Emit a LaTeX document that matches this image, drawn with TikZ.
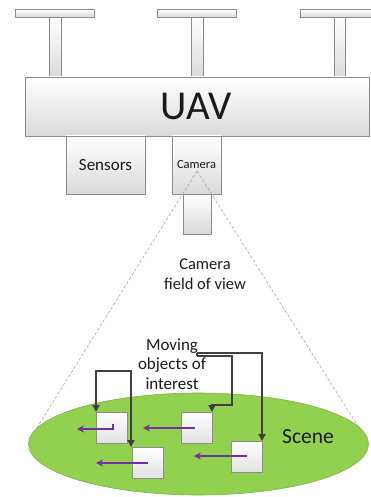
\documentclass[tikz,border=0pt]{standalone}
\usepackage{fontspec}
\setmainfont{Carlito}
\usetikzlibrary{arrows.meta,calc,shapes.geometric}
\definecolor{boxline}{HTML}{8C8C8C}
\definecolor{boxbot}{HTML}{DADADA}
\definecolor{scenegreen}{HTML}{92D050}
\definecolor{sceneline}{HTML}{7FB443}
\definecolor{purp}{HTML}{7030A0}
\definecolor{conn}{HTML}{404040}
\definecolor{txt}{HTML}{1A1A1A}
\tikzset{
  box/.style={draw=boxline, line width=0.8pt, top color=white, bottom color=boxbot, minimum width=#1, inner sep=0pt, rectangle},
  objbox/.style={draw=boxline, line width=0.8pt, top color=white, bottom color=boxbot!80, minimum width=31pt, minimum height=31pt, inner sep=0pt},
  motion/.style={draw=purp, line width=1.9pt, -{Stealth[length=7pt,width=7pt]}},
  pointer/.style={draw=conn, line width=2pt, -{Triangle[length=7pt,width=7pt]}},
  fov/.style={draw=gray!70, line width=0.6pt, dash pattern=on 3pt off 2pt},
  lbl/.style={text=txt, inner sep=0pt, align=center}
}
\begin{document}
\begin{tikzpicture}[x=1pt,y=-1pt]
\useasboundingbox (0,0) rectangle (371,497);
\clip (0,0) rectangle (371,497);
% shafts
\node[box=12pt, minimum height=60pt] (shaftL) at (55,47) {};
\node[box=12pt, minimum height=60pt] (shaftM) at (197,47) {};
\node[box=11pt, minimum height=60pt] (shaftR) at (339.5,47) {};
% blades
\node[box=79pt, minimum height=8pt] (bladeL) at (54.5,13) {};
\node[box=79pt, minimum height=8pt] (bladeM) at (196.5,13) {};
\node[box=79pt, minimum height=8pt] (bladeR) at (339.5,13) {};
% body
\node[box=344pt, minimum height=59pt] (uav) at (197,106.5) {};
\node[lbl, font=\fontsize{41}{44}\selectfont] (uavtxt) at (196,106) {UAV};
\node[box=79pt, minimum height=58pt] (sensors) at (105.5,165) {};
\node[lbl, font=\fontsize{17}{20}\selectfont] (senstxt) at (105.5,165) {Sensors};
\node[box=49pt, minimum height=58pt] (camera) at (196.5,165) {};
\node[lbl, font=\fontsize{12.5}{15}\selectfont] (camtxt) at (196.5,164) {Camera};
% field of view
\coordinate (apex) at (197,171);
\coordinate (fovL) at (28,442);
\coordinate (fovR) at (368,442);
\draw[fov] (apex) -- (fovL);
\draw[fov] (apex) -- (fovR);
\node[box=28pt, minimum height=40pt] (lens) at (197,214) {};
\node[lbl, font=\fontsize{16.5}{20}\selectfont] (fovtxt) at (205,274) {Camera\\field of view};
% scene
\node[draw=sceneline, line width=0.6pt, fill=scenegreen, ellipse, minimum width=340pt, minimum height=102pt, inner sep=0pt] (scene) at (198.5,444) {};
\node[lbl, font=\fontsize{21.5}{24}\selectfont] (scenetxt) at (308,437) {Scene};
\node[lbl, font=\fontsize{17}{19.5}\selectfont] (movtxt) at (172,364) {Moving\\objects of\\interest};
% objects
\node[objbox] (o1) at (112,427.5) {};
\node[objbox] (o2) at (147.5,463) {};
\node[objbox] (o3) at (197,427.5) {};
\node[objbox] (o4) at (247,456.5) {};
% motion arrows
\coordinate (m1s) at (113,423.5);
\coordinate (m1e) at (77,429);
\draw[motion] (m1s) -- (113,429) -- (m1e);
\coordinate (m2s) at (195,428);
\coordinate (m2e) at (143,428);
\draw[motion] (m2s) -- (m2e);
\coordinate (m3s) at (148,463);
\coordinate (m3e) at (96,463);
\draw[motion] (m3s) -- (m3e);
\coordinate (m4s) at (247,456);
\coordinate (m4e) at (194,456);
\draw[motion] (m4s) -- (m4e);
% pointers
\coordinate (p1a) at (96,412);
\coordinate (p1b) at (131,447);
\draw[pointer, {Triangle[length=7pt,width=7pt]}-{Triangle[length=7pt,width=7pt]}] (p1a) -- (96,371) -- (131,371) -- (p1b);
\coordinate (q0) at (197,352.5);
\coordinate (q1) at (197,356);
\coordinate (p3) at (212,412);
\coordinate (p4) at (262,441);
\draw[pointer] (q0) -- (262,352.5) -- (p4);
\draw[draw=conn, line width=2pt] (q0) -- (q1);
\draw[pointer] (q1) -- (232,356) -- (232,405) -- (212,405) -- (p3);
\end{tikzpicture}
\end{document}
